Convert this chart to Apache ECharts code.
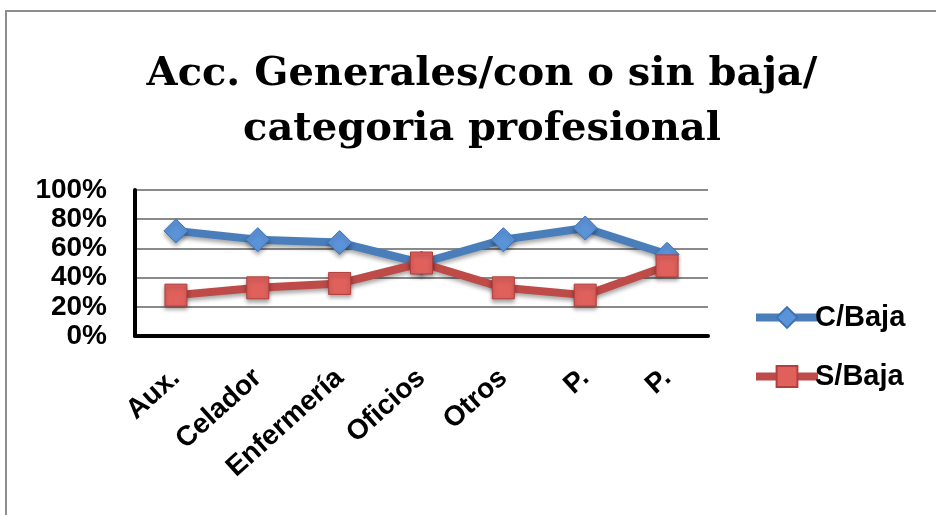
<!DOCTYPE html>
<html lang="es">
<head>
    <meta charset="UTF-8">
    <title>Acc. Generales</title>
    <script src="https://cdn.jsdelivr.net/npm/echarts@6/dist/echarts.min.js"></script>
    <style>
        html, body { margin: 0; padding: 0; background: #fff; }
        #frame { position: absolute; left: 5px; top: 10px; width: 940px; height: 520px;
                 border-left: 2px solid #8e8e8e; border-top: 2px solid #8e8e8e; }
        #chart { position: absolute; left: 0; top: 0; width: 936px; height: 515px; }
    </style>
</head>
<body>
<div id="frame"></div>
<div id="chart"></div>
<script>
    const categories = ['Aux.', 'Celador', 'Enfermería', 'Oficios', 'Otros', 'P.', 'P.'];
    const conBaja = [0.72, 0.66, 0.64, 0.50, 0.66, 0.74, 0.56];
    const sinBaja = [0.28, 0.33, 0.36, 0.50, 0.33, 0.28, 0.48];
    const yTicks = [0, 0.2, 0.4, 0.6, 0.8, 1];

    const chart = echarts.init(document.getElementById('chart'));
    const shadow = {shadowBlur: 4, shadowColor: 'rgba(0,0,0,0.35)', shadowOffsetY: 3};

    chart.setOption({
        animation: false,
        title: {
            text: 'Acc. Generales/con o sin baja/\ncategoria profesional',
            left: 477, top: 42, textAlign: 'center',
            textStyle: {fontFamily: 'DejaVu Serif', fontWeight: 'bold', fontSize: 40, lineHeight: 55, color: '#000'}
        },
        legend: {
            orient: 'vertical', left: 747, top: 298, itemGap: 30,
            itemWidth: 62, itemHeight: 26,
            lineStyle: {width: 8},
            textStyle: {fontFamily: 'Liberation Sans', fontWeight: 'bold', fontSize: 29, color: '#000', padding: [0, 0, 0, -8]},
            data: ['C/Baja', 'S/Baja']
        },
        grid: {left: 135, right: 228, top: 190, bottom: 179},
        xAxis: {
            type: 'category', data: categories,
            axisLine: {lineStyle: {color: '#000', width: 4}},
            axisTick: {show: false},
            axisLabel: {interval: 0, rotate: 42, margin: 38, fontFamily: 'Liberation Sans', fontWeight: 'bold', fontSize: 28, color: '#000'}
        },
        yAxis: {
            type: 'value', min: yTicks[0], max: yTicks[yTicks.length - 1], interval: 0.2,
            axisLine: {show: true, lineStyle: {color: '#000', width: 4}},
            axisTick: {show: false},
            splitLine: {lineStyle: {color: '#8a8a8a', width: 2}},
            axisLabel: {margin: 28, fontFamily: 'Liberation Sans', fontWeight: 'bold', fontSize: 28, color: '#000', lineHeight: 28,
                formatter: v => Math.round(v * 100) + '%'}
        },
        series: [
            {
                name: 'C/Baja', type: 'line', data: conBaja,
                symbol: 'diamond', symbolSize: 24,
                lineStyle: Object.assign({color: '#4a7ebb', width: 8}, shadow),
                itemStyle: Object.assign({color: '#5b93d9', borderColor: '#3e72b4', borderWidth: 1}, shadow)
            },
            {
                name: 'S/Baja', type: 'line', data: sinBaja,
                symbol: 'rect', symbolSize: 22,
                lineStyle: Object.assign({color: '#be4b48', width: 8}, shadow),
                itemStyle: Object.assign({color: '#e0605c', borderColor: '#b13f3c', borderWidth: 1}, shadow)
            }
        ]
    });
</script>
</body>
</html>
